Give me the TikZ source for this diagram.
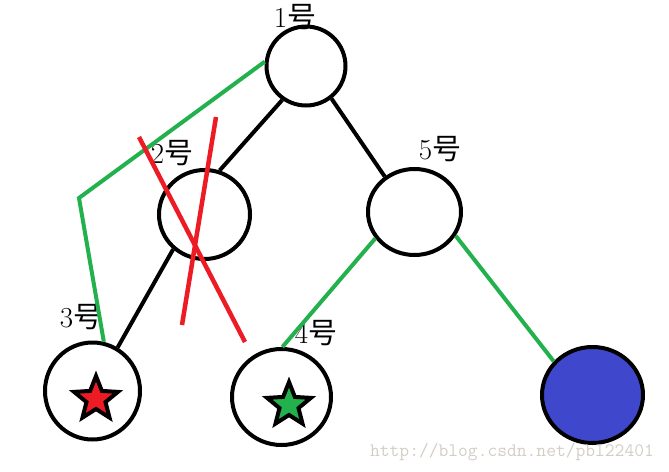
\documentclass[tikz,border=0pt]{standalone}
\usepackage{fontspec}
\newfontfamily\cjk{Noto Sans CJK SC}
\usetikzlibrary{shapes.geometric}
\definecolor{pgreen}{HTML}{22B14C}
\definecolor{pred}{HTML}{ED1C24}
\definecolor{pblue}{HTML}{3F48CC}
\definecolor{wmark}{HTML}{D2CEC6}
\tikzset{
  treenode/.style={ellipse, draw=black, line width=4pt, inner sep=0pt, fill=white},
  tlabel/.style={inner sep=0pt, font=\fontsize{29}{29}\selectfont},
  blackedge/.style={draw=black, line width=4pt},
  greenedge/.style={draw=pgreen, line width=4pt, line join=miter},
  rededge/.style={draw=pred, line width=4.5pt},
  starmark/.style={star, star points=5, star point ratio=2.3, minimum size=46pt, inner sep=0pt, draw=black, line width=4pt}
}
\begin{document}
\begin{tikzpicture}[x=1pt,y=-1pt]
\useasboundingbox (0,0) rectangle (669,471);
% nodes
\node[treenode, minimum width=79pt, minimum height=79pt] (n1) at (306,66) {};
\node[treenode, minimum width=91pt, minimum height=89pt] (n2) at (204.5,214.5) {};
\node[treenode, minimum width=93pt, minimum height=86pt] (n5) at (414.5,212) {};
\node[treenode, minimum width=95pt, minimum height=97pt] (n3) at (92.5,391) {};
\node[treenode, minimum width=99pt, minimum height=96pt] (n4) at (281.5,397) {};
\node[treenode, fill=pblue, minimum width=101pt, minimum height=96pt] (n6) at (592.5,395) {};
% stars
\node[starmark, fill=pred] (s3) at (96,399) {};
\node[starmark, fill=pgreen] (s4) at (289,405) {};
% labels
\node[tlabel] (l1) at (295,17) {1{\cjk 号}};
\node[tlabel] (l2) at (172,153) {2{\cjk 号}};
\node[tlabel] (l3) at (81,317) {3{\cjk 号}};
\node[tlabel] (l4) at (316,333) {4{\cjk 号}};
\node[tlabel] (l5) at (440,149) {5{\cjk 号}};
% black tree edges
\draw[blackedge] (n1.235) -- (n2.71);
\draw[blackedge] (n1.-52) -- (n5.130);
\draw[blackedge] (n2.228) -- (n3.60);
% green path
\coordinate (g1) at (79,198);
\draw[greenedge] (n1.174) -- (g1) -- (n3.77);
\draw[greenedge] (n5.214) -- (n4.89);
\draw[greenedge] (n5.-30) -- (n6.139);
% red cross
\coordinate (ra1) at (139,137);
\coordinate (ra2) at (245,342);
\coordinate (rb1) at (216,117);
\coordinate (rb2) at (182,325);
\draw[rededge] (ra1) -- (ra2);
\draw[rededge] (rb1) -- (rb2);
% watermark
\node[inner sep=0pt, text=wmark, font=\ttfamily\fontsize{19}{19}\selectfont] (wm) at (512,452) {http://blog.csdn.net/pbl22401};
\end{tikzpicture}
\end{document}
